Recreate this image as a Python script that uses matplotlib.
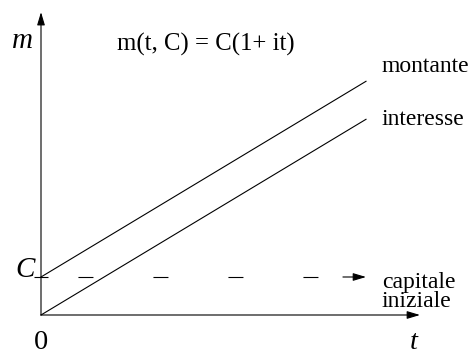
import matplotlib
matplotlib.use('Agg')
import matplotlib.pyplot as plt
import numpy as np

# dati del grafico (capitalizzazione semplice)
C = 1.0          # capitale iniziale
i = 0.515        # tasso
t_end = 10.0     # ultimo istante disegnato
t = np.array([0.0, t_end])
montante = C * (1 + i * t)
interesse = C * i * t

x_axis_end = 11.66
y_axis_end = 7.97

plt.rcParams['font.family'] = ['Liberation Serif', 'DejaVu Serif']
plt.rcParams['lines.scale_dashes'] = False

fig = plt.figure(figsize=(4.73, 3.54), dpi=100)
ax = fig.add_axes([0, 0, 1, 1])
ax.set_xlim(-1.2615, 13.292)
ax.set_ylim(-1.0263, 8.289)
ax.axis('off')

lw = 0.8
arrow = dict(arrowstyle='-|>,head_length=0.6,head_width=0.18', mutation_scale=13,
             color='black', lw=lw, shrinkA=0, shrinkB=0)

# assi
ax.annotate('', xy=(x_axis_end, 0), xytext=(0, 0), arrowprops=arrow)
ax.annotate('', xy=(0, y_axis_end), xytext=(0, 0), arrowprops=arrow)

# rette
ax.plot(t, montante, color='black', lw=lw)
ax.plot(t, interesse, color='black', lw=lw)

# capitale iniziale tratteggiato + freccia
ax.plot([0, t_end * 0.929], [C, C], color='black', lw=lw,
        linestyle=(27.4, (10.8, 43.2)))
ax.annotate('', xy=(t_end, C), xytext=(t_end * 0.929, C), arrowprops=arrow)
ax.plot(0, C, marker='_', markersize=9.4, color='black', mew=lw)

# testi
big = 21
small = 17
ax.text(-0.585, 7.03, 'm', fontsize=big, fontstyle='italic', ha='center', va='baseline')
ax.text(-0.18, C, 'C', fontsize=big, fontstyle='italic', ha='right', va='baseline')
ax.text(0, -0.9, '0', fontsize=20.5, ha='center', va='baseline')
ax.text(11.48, -0.9, 't', fontsize=20.5, fontstyle='italic', ha='center', va='baseline')
ax.text(2.34, 6.95, 'm(t, C) = C(1+ it)', fontsize=17.8, ha='left', va='baseline')
ax.text(10.49, montante[-1] + 0.24, 'montante', fontsize=small, ha='left', va='baseline')
ax.text(10.49, interesse[-1] - 0.15, 'interesse', fontsize=small, ha='left', va='baseline')
ax.text(10.49, 0.71, 'capitale', fontsize=small, ha='left', va='baseline')
ax.text(10.49, 0.21, 'iniziale', fontsize=small, ha='left', va='baseline')

fig.savefig('out.png', dpi=100)
